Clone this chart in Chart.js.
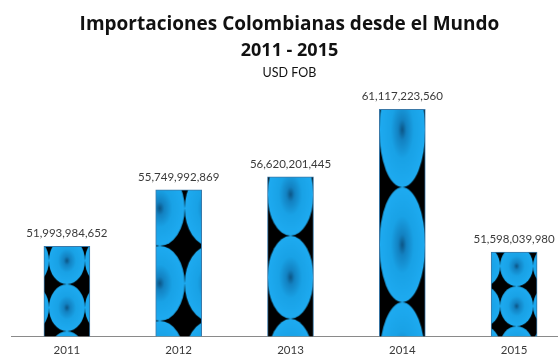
<!DOCTYPE html>
<html>
<head>
<meta charset="utf-8">
<script src="https://cdn.jsdelivr.net/npm/chart.js@4.4.1/dist/chart.umd.min.js"></script>
<style>
    html, body { margin: 0; padding: 0; background: #fff; overflow: hidden; }
    #wrap { width: 580px; height: 372px; }
</style>
</head>
<body>
<div id="wrap"><canvas id="imports" width="580" height="372"></canvas></div>
<script>
// Importaciones colombianas desde el mundo, USD FOB
const years = ['2011', '2012', '2013', '2014', '2015'];
const importsUsd = [51993984652, 55749992869, 56620201445, 61117223560, 51598039980];

const titleLines = ['Importaciones Colombianas desde el Mundo', '2011 - 2015'];
const subtitleText = 'USD FOB';

const BAR_WIDTH = 46;

// circle texture per bar: tile size and where the tile grid starts inside the bar
const barTiles = [
    { w: 36, h: 47, dx: 5, dy: 38 },
    { w: 50, h: 75, dx: 29, dy: 56 },
    { w: 46, h: 83, dx: 0, dy: 59 },
    { w: 46, h: 115, dx: 0, dy: 78 },
    { w: 33, h: 40, dx: 9, dy: 34 }
];

function circleTile(w, h) {
    const c = document.createElement('canvas');
    c.width = w;
    c.height = h;
    const g = c.getContext('2d');
    g.fillStyle = '#000';
    g.fillRect(0, 0, w, h);
    g.save();
    g.translate(w / 2, h / 2);
    g.scale(w / 2, h / 2);
    const grad = g.createRadialGradient(0, 0, 0, 0, 0, 1);
    grad.addColorStop(0, '#0c5585');
    grad.addColorStop(0.18, '#1382c2');
    grad.addColorStop(0.5, '#19a2e6');
    grad.addColorStop(1, '#1eabf1');
    g.fillStyle = grad;
    g.beginPath();
    g.arc(0, 0, 1, 0, Math.PI * 2);
    g.fill();
    g.restore();
    return c;
}

function barFill(ctx) {
    const chart = ctx.chart;
    if (ctx.type !== 'data' || !chart.chartArea) return '#1aa6ec';
    const t = barTiles[ctx.dataIndex];
    const left = chart.scales.x.getPixelForValue(ctx.dataIndex) - BAR_WIDTH / 2;
    const top = chart.scales.y.getPixelForValue(ctx.raw);
    const pattern = chart.ctx.createPattern(circleTile(t.w, t.h), 'repeat');
    pattern.setTransform(new DOMMatrix().translateSelf(left + t.dx, top + t.dy));
    return pattern;
}

const header = {
    id: 'header',
    afterDraw(chart) {
        const g = chart.ctx;
        const cx = (chart.chartArea.left + chart.chartArea.right) / 2 - 1;
        g.save();
        g.textAlign = 'center';
        g.textBaseline = 'alphabetic';
        g.fillStyle = '#111';
        g.font = 'bold 19px "Open Sans"';
        g.fillText(titleLines[0], cx, 30);
        g.font = 'bold 18px "Open Sans"';
        g.fillText(titleLines[1], cx, 56);
        g.font = '12.5px Lato';
        g.fillText(subtitleText, cx, 77);
        g.restore();
    }
};

const valueLabels = {
    id: 'valueLabels',
    afterDraw(chart) {
        const g = chart.ctx;
        g.save();
        g.font = '11.5px Lato';
        g.fillStyle = '#3a3a3a';
        g.textAlign = 'center';
        g.textBaseline = 'alphabetic';
        chart.getDatasetMeta(0).data.forEach((bar, i) => {
            g.fillText(importsUsd[i].toLocaleString('en-US'), bar.x, bar.y - 9);
        });
        g.restore();
    }
};

new Chart(document.getElementById('imports'), {
    type: 'bar',
    data: {
        labels: years,
        datasets: [{
            data: importsUsd,
            backgroundColor: barFill,
            borderColor: '#3b79a8',
            borderWidth: 1,
            barThickness: BAR_WIDTH
        }]
    },
    options: {
        responsive: false,
        animation: false,
        layout: { padding: { top: 96, left: 11, right: 10, bottom: 8 } },
        plugins: {
            legend: { display: false },
            tooltip: { enabled: false }
        },
        scales: {
            x: {
                grid: { display: false, drawTicks: false },
                border: { color: '#8a8a8a', width: 1 },
                ticks: { color: '#3a3a3a', font: { family: 'Lato', size: 11.5 }, padding: 7 }
            },
            y: { display: false, min: 46e9, max: 62e9 }
        }
    },
    plugins: [header, valueLabels]
});
</script>
</body>
</html>
